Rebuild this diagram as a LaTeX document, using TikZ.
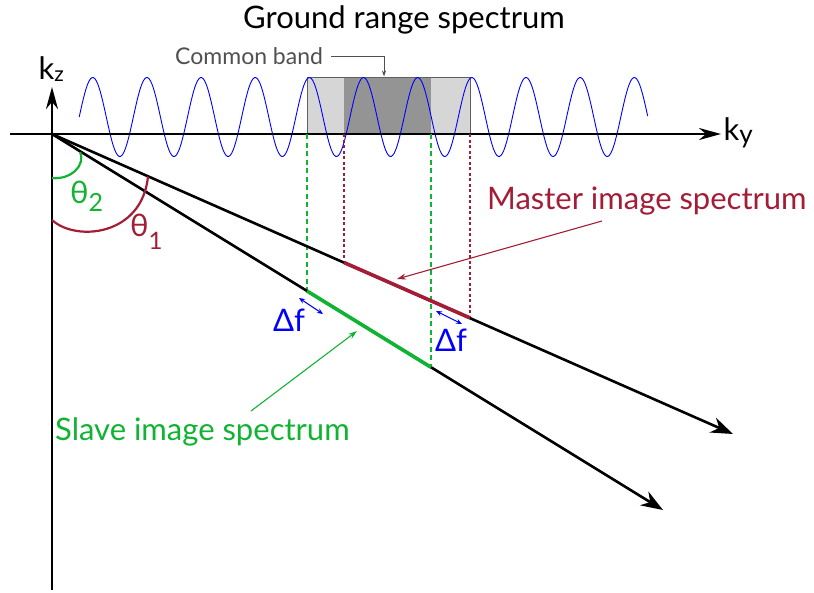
\documentclass[tikz,border=0pt]{standalone}
\usepackage{fontspec}
\setmainfont{Lato}
\usetikzlibrary{arrows.meta, positioning}

\definecolor{masterred}{RGB}{163,29,54}
\definecolor{slavegreen}{RGB}{16,180,50}
\definecolor{bandlight}{RGB}{214,214,214}
\definecolor{banddark}{RGB}{148,148,148}
\definecolor{bandedge}{RGB}{96,96,96}
\definecolor{notegray}{RGB}{80,80,80}

% lowered index: drop, size, text
\newcommand{\lowsub}[3]{\raisebox{-#1}{\fontsize{#2}{#2}\selectfont #3}}

\begin{document}
\begin{tikzpicture}[x=1pt, y=-1pt,
  axisline/.style={line width=2.6pt, -{Stealth[length=22pt, width=12pt, inset=7pt]}},
  ray/.style={line width=2.6pt, -{Stealth[length=22pt, width=16pt, inset=7pt]}},
  spec/.style={line width=3.6pt},
  greendash/.style={slavegreen, line width=1.5pt, dash pattern=on 5pt off 3.5pt},
  reddot/.style={masterred, line width=1.3pt, dash pattern=on 3pt off 2.5pt},
  pointer/.style={line width=1.1pt, -{Stealth[length=9pt, width=6pt]}},
  dfarrow/.style={blue, line width=1pt, {Stealth[length=6pt, width=5pt]}-{Stealth[length=6pt, width=5pt]}},
  bigtext/.style={font=\fontsize{31}{36}\selectfont, inner sep=0pt, anchor=base west},
]
  \useasboundingbox (0,0) rectangle (814,592);

  % Points of the figure
  \coordinate (O) at (52,134);
  \coordinate (ystart) at (10,134);
  \coordinate (yend) at (721,134);
  \coordinate (zbot) at (52,590);
  \coordinate (ztop) at (52,87);
  \coordinate (mend) at (733,434);
  \coordinate (send) at (663,510);
  \coordinate (m1) at (344,262.5);
  \coordinate (m2) at (470,317.9);
  \coordinate (s1) at (307,291);
  \coordinate (s2) at (431,367.3);

  % Common band
  \fill[bandlight] (307,77) rectangle (470,134);
  \fill[banddark] (344,77) rectangle (431,134);
  \draw[bandedge, line width=0.8pt] (307,134) -- (307,77) -- (470,77) -- (470,134);

  % Ground range spectrum (x counts periods)
  \draw[blue, line width=0.9pt] plot[domain=0:10.5, samples=400, smooth]
    ({79.2+54.16*\x}, {117-39.5*sin(360*\x)});

  % Axes
  \draw[axisline] (ystart) -- (yend);
  \draw[axisline] (zbot) -- (ztop);
  \node[bigtext] (kz) at (38.5,79.3) {k\lowsub{2.5pt}{21}{z}};
  \node[bigtext] (ky) at (723.5,140) {k\lowsub{3pt}{26}{y}};

  % Projections
  \draw[greendash] (s1 |- O) -- (s1);
  \draw[greendash] (s2 |- O) -- (s2);
  \draw[reddot] (m1 |- O) -- (m1);
  \draw[reddot] (m2 |- O) -- (m2);

  % Look directions
  \draw[ray] (O) -- (mend);
  \draw[ray] (O) -- (send);
  \draw[spec, masterred] (m1) -- (m2);
  \draw[spec, slavegreen] (s1) -- (s2);

  % Angles
  \draw[slavegreen, line width=2.2pt] (52,178) .. controls (70,180) and (86,166) .. (80,152);
  \draw[masterred, line width=2.2pt] (52,220) .. controls (76,242) and (142,236) .. (148,176.5);
  \node[bigtext, slavegreen] (theta2) at (70,203.3) {θ\lowsub{8.4pt}{25}{2}};
  \node[bigtext, masterred] (theta1) at (130,236.7) {θ\lowsub{12.6pt}{24}{1}};

  % Labels
  \node[bigtext] (title) at (243,28) {Ground range spectrum};
  \node[bigtext, notegray, font=\fontsize{23}{27}\selectfont] (common) at (175,64) {Common band};
  \node[bigtext, masterred] (master) at (487,209) {Master image spectrum};
  \node[bigtext, slavegreen] (slave) at (55,440.5) {Slave image spectrum};

  \coordinate (cbfrom) at (331,56.5);
  \coordinate (cbto) at (384,76.5);
  \draw[pointer, notegray, line width=0.8pt, -{Stealth[length=6pt, width=4pt]}] (cbfrom) -| (cbto);

  \coordinate (mfrom) at (602,221);
  \coordinate (mto) at (397,279);
  \draw[pointer, masterred] (mfrom) -- (mto);
  \coordinate (sfrom) at (251,411);
  \coordinate (sto) at (357,331);
  \draw[pointer, slavegreen] (sfrom) -- (sto);

  % Frequency shift
  \coordinate (dfa) at (299,298);
  \coordinate (dfb) at (323,314);
  \coordinate (dfc) at (436,311);
  \coordinate (dfd) at (462,324);
  \draw[dfarrow] (dfa) -- (dfb);
  \draw[dfarrow] (dfc) -- (dfd);
  \node[bigtext, blue] (dfleft) at (273,331.5) {Δf};
  \node[bigtext, blue] (dfright) at (435,351.5) {Δf};
\end{tikzpicture}
\end{document}
